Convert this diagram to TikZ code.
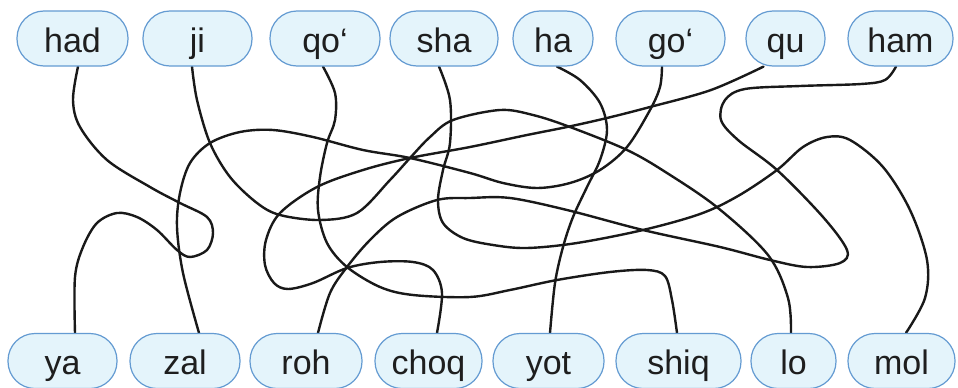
\documentclass[tikz,border=0pt]{standalone}
\usepackage{fontspec}
\setmainfont{Liberation Sans}
\definecolor{boxfill}{RGB}{228,244,251}
\definecolor{boxdraw}{RGB}{100,155,210}
\definecolor{textc}{RGB}{30,30,30}
\definecolor{wirec}{RGB}{25,25,25}
\pgfdeclarelayer{bg}
\pgfsetlayers{bg,main}
\begin{document}
\begin{tikzpicture}[x=1pt,y=-1pt,
  box/.style={draw=boxdraw, fill=boxfill, line width=1.2pt, rounded corners=27pt,
    minimum height=55pt, inner sep=0pt, text height=27pt, text depth=0pt,
    font=\fontsize{34}{40}\selectfont, text=textc},
  wire/.style={draw=wirec, line width=2.4pt, line cap=round, line join=round}]
\useasboundingbox (0,0) rectangle (958,388);
% top row
\node[box, minimum width=111pt] (had) at (72.5,38.5) {had};
\node[box, minimum width=109pt] (ji)  at (197.5,38.5) {ji};
\node[box, minimum width=110pt] (qo)  at (325,38.5) {qo‘};
\node[box, minimum width=108pt] (sha) at (444,38.5) {sha};
\node[box, minimum width=80pt]  (ha)  at (553,38.5) {ha};
\node[box, minimum width=109pt] (go)  at (670.5,38.5) {go‘};
\node[box, minimum width=79pt]  (qu)  at (785.5,38.5) {qu};
\node[box, minimum width=105pt] (ham) at (900.5,38.5) {ham};
% bottom row
\node[box, minimum width=109pt] (ya)   at (62.5,361) {ya};
\node[box, minimum width=110pt] (zal)  at (185,361) {zal};
\node[box, minimum width=112pt] (roh)  at (306,361) {roh};
\node[box, minimum width=107pt] (choq) at (428.5,361) {choq};
\node[box, minimum width=111pt] (yot)  at (548.5,361) {yot};
\node[box, minimum width=125pt] (shiq) at (678.5,361) {shiq};
\node[box, minimum width=85pt]  (lo)   at (793.5,361) {lo};
\node[box, minimum width=107pt] (mol)  at (901.5,361) {mol};
\begin{pgfonlayer}{bg}
\fill[white] (0,0) rectangle (958,388);
% had -> ya
\draw[wire] plot[smooth, tension=0.55] coordinates {([xshift=5.5pt]had.south) (73,100) (80,127) (107,160) (150,187) (180,203) (207,217) (213,233) (207,250) (190,257) (177,250) (157,230) (137,217) (117,213) (97,223) (83,247) (75,277) ([xshift=12.5pt]ya.north)};
% ji -> lo
\draw[wire] plot[smooth, tension=0.55] coordinates {([xshift=-5.5pt]ji.south) (197,100) (210,143) (230,177) (257,203) (280,215) (320,220) (357,213) (390,180) (410,158) (430,137) (453,120) (500,110) (533,115) (570,127) (627,150) (667,173) (718,208) (768,255) (788,298) ([xshift=-2.5pt]lo.north)};
% qo -> shiq
\draw[wire] plot[smooth, tension=0.55] coordinates {([xshift=-2pt]qo.south) (335,93) (335,120) (327,143) (320,177) (318,210) (327,243) (347,267) (380,287) (413,295) (470,297) (510,290) (557,280) (610,272) (647,270) (665,276) (672,300) ([xshift=-1.5pt]shiq.north)};
% sha -> mol
\draw[wire] plot[smooth, tension=0.55] coordinates {([xshift=-5pt]sha.south) (450,100) (450,143) (443,170) (438,200) (443,223) (463,238) (493,245) (527,248) (577,243) (643,230) (700,214) (738,196) (777,170) (803,147) (827,137) (850,140) (883,167) (910,210) (927,260) (925,298) ([xshift=4.5pt]mol.north)};
% ha -> yot
\draw[wire] plot[smooth, tension=0.55] coordinates {([xshift=4pt]ha.south) (580,80) (600,103) (607,130) (600,160) (587,187) (573,217) (563,247) (555,283) ([xshift=1.5pt]yot.north)};
% go -> zal
\draw[wire] plot[smooth, tension=0.55] coordinates {([xshift=-8.5pt]go.south) (660,87) (650,110) (627,147) (600,170) (570,183) (537,188) (503,183) (470,173) (410,158) (363,150) (313,137) (273,130) (240,132) (210,143) (190,163) (180,193) (177,227) (183,273) ([xshift=14pt]zal.north)};
% qu -> choq
\draw[wire] plot[smooth, tension=0.55] coordinates {([xshift=-22pt]qu.south) (711,90) (650,107) (607,118) (567,127) (527,135) (470,147) (410,158) (363,170) (317,187) (280,213) (266,240) (265,265) (274,283) (288,289) (313,283) (347,268) (380,262) (413,262) (433,270) (442,293) ([xshift=8.5pt]choq.north)};
% ham -> roh
\draw[wire] plot[smooth, tension=0.55] coordinates {([xshift=-4.5pt]ham.south) (885,80) (861,84) (800,86) (745,89) (725,100) (721,120) (738,140) (777,170) (823,217) (847,250) (840,263) (807,267) (770,260) (720,247) (643,230) (567,210) (510,198) (470,198) (437,200) (397,217) (370,240) (347,267) (330,293) ([xshift=12pt]roh.north)};
\end{pgfonlayer}
\end{tikzpicture}
\end{document}
